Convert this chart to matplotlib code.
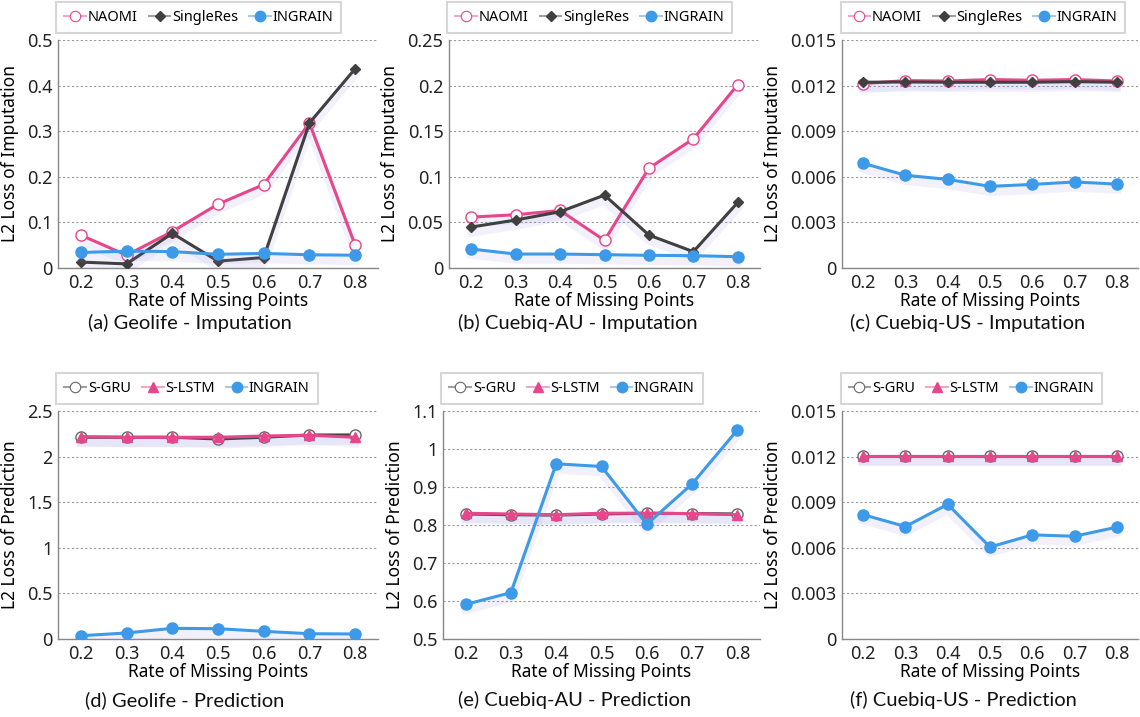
import matplotlib
matplotlib.use('Agg')
import matplotlib.pyplot as plt
import matplotlib.patheffects as pe
from matplotlib.lines import Line2D

plt.rcParams['font.family'] = ['Noto Sans', 'DejaVu Sans']

rates = [0.2, 0.3, 0.4, 0.5, 0.6, 0.7, 0.8]
rate_labels = ['0.2', '0.3', '0.4', '0.5', '0.6', '0.7', '0.8']

# (a) Geolife - Imputation
geo_imp_naomi = [0.072, 0.028, 0.080, 0.140, 0.183, 0.318, 0.050]
geo_imp_single = [0.013, 0.009, 0.076, 0.015, 0.023, 0.318, 0.437]
geo_imp_ingrain = [0.034, 0.037, 0.036, 0.030, 0.032, 0.029, 0.028]

# (b) Cuebiq-AU - Imputation
au_imp_naomi = [0.0558, 0.0584, 0.0631, 0.0303, 0.1095, 0.1416, 0.2011]
au_imp_single = [0.0449, 0.0526, 0.0617, 0.0799, 0.0361, 0.0179, 0.0719]
au_imp_ingrain = [0.0208, 0.0153, 0.0153, 0.0146, 0.0139, 0.0135, 0.0124]

# (c) Cuebiq-US - Imputation
us_imp_naomi = [0.01213, 0.01233, 0.01230, 0.01240, 0.01235, 0.01240, 0.01230]
us_imp_single = [0.01222, 0.01224, 0.01222, 0.01222, 0.01222, 0.01226, 0.01222]
us_imp_ingrain = [0.00689, 0.00610, 0.00583, 0.00537, 0.00550, 0.00566, 0.00552]

# (d) Geolife - Prediction
geo_pre_sgru = [2.212, 2.212, 2.212, 2.193, 2.212, 2.237, 2.237]
geo_pre_slstm = [2.219, 2.212, 2.212, 2.212, 2.226, 2.234, 2.212]
geo_pre_ingrain = [0.036, 0.066, 0.117, 0.113, 0.084, 0.058, 0.055]

# (e) Cuebiq-AU - Prediction
au_pre_sgru = [0.829, 0.827, 0.826, 0.829, 0.831, 0.830, 0.829]
au_pre_slstm = [0.831, 0.829, 0.827, 0.831, 0.831, 0.830, 0.827]
au_pre_ingrain = [0.591, 0.622, 0.961, 0.954, 0.802, 0.908, 1.050]

# (f) Cuebiq-US - Prediction
us_pre_sgru = [0.01205, 0.01205, 0.01205, 0.01205, 0.01205, 0.01205, 0.01205]
us_pre_slstm = [0.01202, 0.01202, 0.01202, 0.01202, 0.01202, 0.01202, 0.01202]
us_pre_ingrain = [0.00818, 0.00740, 0.00886, 0.00605, 0.00685, 0.00676, 0.00736]

PINK = '#e8468a'
GRAY = '#404040'
BLUE = '#3d9ae8'

W, H = 1140, 717
fig = plt.figure(figsize=(W / 100, H / 100), dpi=100)


def make_ax(l, r, t, b):
    return fig.add_axes([l / W, 1 - b / H, (r - l) / W, (b - t) / H])


shadow = [pe.SimpleLineShadow(offset=(0, -4), shadow_color='#8f85e0', alpha=0.11, linewidth=6),
          pe.Normal()]


def series(ax, y, color, marker, ms, mfc, mec, z):
    # line with soft shadow, then markers on top
    ax.plot(rates, y, color=color, lw=2.2, path_effects=shadow, zorder=z)
    ax.plot(rates, y, ls='none', marker=marker, ms=ms, mfc=mfc, mec=mec,
            mew=1.0, zorder=z + 0.5)


def style(ax, ylim, yticks, yticklabels, ylabel, handles, labels):
    ax.set_xlim(0.15, 0.85)
    ax.set_ylim(*ylim)
    ax.set_xticks(rates)
    ax.set_xticklabels(rate_labels)
    ax.set_yticks(yticks)
    ax.set_yticklabels(yticklabels)
    ax.tick_params(length=0, labelsize=13, pad=4, colors='#222222')
    ax.grid(axis='y', linestyle=(0, (2, 2)), color='#999999', linewidth=0.8)
    ax.set_axisbelow(True)
    for s in ['top', 'right']:
        ax.spines[s].set_visible(False)
    for s in ['left', 'bottom']:
        ax.spines[s].set_color('#888888')
        ax.spines[s].set_linewidth(1.0)
    ax.set_ylabel(ylabel, fontsize=12.5, labelpad=6)
    ax.set_xlabel('Rate of Missing Points', fontsize=12.5, labelpad=0)
    leg = ax.legend(handles, labels, loc='lower left', bbox_to_anchor=(-0.005, 1.03),
                    ncol=3, fontsize=10.5, frameon=True, fancybox=False,
                    handlelength=1.5, handletextpad=0.1, columnspacing=0.75,
                    borderpad=0.55, borderaxespad=0)
    leg.get_frame().set_edgecolor('#cccccc')
    leg.get_frame().set_linewidth(1.5)


def imputation(ax, naomi, single, ingrain):
    series(ax, naomi, PINK, 'o', 8, 'white', PINK, 3)
    series(ax, single, GRAY, 'D', 5.5, GRAY, GRAY, 4)
    series(ax, ingrain, BLUE, 'o', 8, BLUE, BLUE, 5)
    handles = [
        Line2D([], [], color='#f0a8c6', lw=1.5, marker='o', ms=7.5, mfc='white', mec=PINK, mew=0.8),
        Line2D([], [], color='#a0a0a0', lw=1.5, marker='D', ms=5, mfc=GRAY, mec=GRAY),
        Line2D([], [], color='#a8c8ea', lw=1.5, marker='o', ms=7.5, mfc=BLUE, mec=BLUE),
    ]
    return handles, ['NAOMI', 'SingleRes', 'INGRAIN']


def prediction(ax, sgru, slstm, ingrain):
    series(ax, sgru, GRAY, 'o', 8, 'white', '#666666', 3)
    series(ax, slstm, PINK, '^', 7.5, PINK, PINK, 4)
    series(ax, ingrain, BLUE, 'o', 8, BLUE, BLUE, 5)
    handles = [
        Line2D([], [], color='#a0a0a0', lw=1.5, marker='o', ms=7.5, mfc='white', mec='#666666', mew=0.8),
        Line2D([], [], color='#f0a8c6', lw=1.5, marker='^', ms=7.5, mfc=PINK, mec=PINK),
        Line2D([], [], color='#a8c8ea', lw=1.5, marker='o', ms=7.5, mfc=BLUE, mec=BLUE),
    ]
    return handles, ['S-GRU', 'S-LSTM', 'INGRAIN']


ax_a = make_ax(58, 378, 40, 268)
h, l = imputation(ax_a, geo_imp_naomi, geo_imp_single, geo_imp_ingrain)
style(ax_a, (0, 0.5), [0, 0.1, 0.2, 0.3, 0.4, 0.5],
      ['0', '0.1', '0.2', '0.3', '0.4', '0.5'], 'L2 Loss of Imputation', h, l)

ax_b = make_ax(449, 760, 40, 268)
h, l = imputation(ax_b, au_imp_naomi, au_imp_single, au_imp_ingrain)
style(ax_b, (0, 0.25), [0, 0.05, 0.1, 0.15, 0.2, 0.25],
      ['0', '0.05', '0.1', '0.15', '0.2', '0.25'], 'L2 Loss of Imputation', h, l)

ax_c = make_ax(842, 1138, 40, 268)
h, l = imputation(ax_c, us_imp_naomi, us_imp_single, us_imp_ingrain)
style(ax_c, (0, 0.015), [0, 0.003, 0.006, 0.009, 0.012, 0.015],
      ['0', '0.003', '0.006', '0.009', '0.012', '0.015'], 'L2 Loss of Imputation', h, l)

ax_d = make_ax(58, 378, 411, 639)
h, l = prediction(ax_d, geo_pre_sgru, geo_pre_slstm, geo_pre_ingrain)
style(ax_d, (0, 2.5), [0, 0.5, 1, 1.5, 2, 2.5],
      ['0', '0.5', '1', '1.5', '2', '2.5'], 'L2 Loss of Prediction', h, l)

ax_e = make_ax(443, 760, 411, 639)
h, l = prediction(ax_e, au_pre_sgru, au_pre_slstm, au_pre_ingrain)
style(ax_e, (0.5, 1.1), [0.5, 0.6, 0.7, 0.8, 0.9, 1.0, 1.1],
      ['0.5', '0.6', '0.7', '0.8', '0.9', '1', '1.1'], 'L2 Loss of Prediction', h, l)

ax_f = make_ax(842, 1138, 411, 639)
h, l = prediction(ax_f, us_pre_sgru, us_pre_slstm, us_pre_ingrain)
style(ax_f, (0, 0.015), [0, 0.003, 0.006, 0.009, 0.012, 0.015],
      ['0', '0.003', '0.006', '0.009', '0.012', '0.015'], 'L2 Loss of Prediction', h, l)

captions = [
    (190, 323, '(a) Geolife - Imputation'),
    (578, 323, '(b) Cuebiq-AU - Imputation'),
    (968, 323, '(c) Cuebiq-US - Imputation'),
    (185, 700, '(d) Geolife - Prediction'),
    (575, 700, '(e) Cuebiq-AU - Prediction'),
    (963, 700, '(f) Cuebiq-US - Prediction'),
]
for x, y, txt in captions:
    fig.text(x / W, 1 - y / H, txt, ha='center', va='center', fontsize=14.5,
             family=['Lato', 'DejaVu Sans'], color='#111111')

fig.savefig('out.png', dpi=100)
